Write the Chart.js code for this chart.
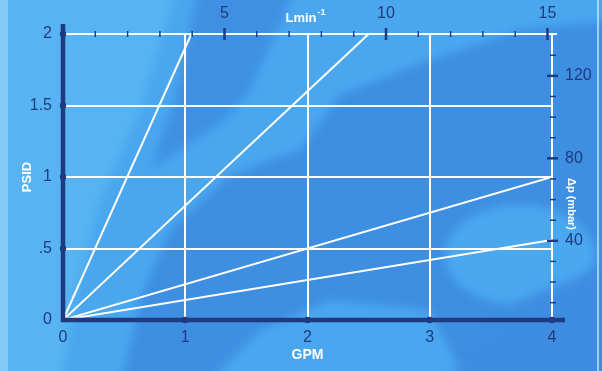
<!DOCTYPE html>
<html>
<head>
<meta charset="utf-8">
<script src="https://cdn.jsdelivr.net/npm/chart.js@4.4.1/dist/chart.umd.min.js"></script>
<style>
  html, body { margin: 0; padding: 0; background: #3f8fe3; }
  #wrap { width: 602px; height: 371px; position: relative; }
</style>
</head>
<body>
<div id="wrap"><canvas id="flowChart" width="602" height="371"></canvas></div>
<script>
// pressure drop lines, each starts at the origin
const lineNames = ["Line A", "Line B", "Line C", "Line D"]
const endGpm = [1.05, 2.5, 4, 4]
const endPsid = [2, 2, 1.0, 0.56]

// tick labels
const gpmTicks = [0, 1, 2, 3, 4]
const psidTicks = [0, 0.5, 1, 1.5, 2]
const lminTicks = [5, 10, 15]
const mbarTicks = [40, 80, 120]

const LMIN_PER_GPM = 3.785
const NAVY = "#1e3a80"
const FONT = "'Liberation Sans', Arial, sans-serif"

const datasets = lineNames.map((name, i) => ({
  label: name,
  data: [{ x: 0, y: 0 }, { x: endGpm[i], y: endPsid[i] }],
  showLine: true,
  borderColor: "#ffffff",
  borderWidth: 2,
  pointRadius: 0,
}))

// posterised blue backdrop
const backdrop = {
  id: "backdrop",
  beforeDraw(chart) {
    const ctx = chart.ctx
    const w = chart.width, h = chart.height
    const poly = (pts, col) => {
      ctx.fillStyle = col
      ctx.beginPath()
      pts.forEach(([px, py], i) => (i ? ctx.lineTo(px, py) : ctx.moveTo(px, py)))
      ctx.closePath()
      ctx.fill()
    }
    ctx.save()
    ctx.fillStyle = "#3e8ee2"
    ctx.fillRect(0, 0, w, h)
    ctx.filter = "blur(5px)"
    poly([[-20, -20], [620, -20], [620, 20], [520, 30], [430, 60], [340, 95], [300, 150],
      [230, 175], [170, 230], [140, 300], [120, 390], [-20, 390]], "#4aa7ee")
    poly([[200, -20], [300, -20], [250, 90], [225, 120], [150, 170], [175, 100]], "#3f90e3")
    poly([[-20, -20], [180, -20], [140, 110], [100, 200], [75, 300], [60, 390], [-20, 390]], "#57b3f1")
    poly([[200, 390], [260, 330], [330, 300], [430, 310], [470, 390]], "#4aa6ee")
    ctx.fillStyle = "#4aa8ef"
    ctx.beginPath()
    ctx.ellipse(520, 255, 75, 50, 0, 0, Math.PI * 2)
    ctx.fill()
    poly([[440, 390], [520, 300], [620, 260], [620, 390]], "#3f8de2")
    ctx.filter = "none"
    // light strip on the left edge, thin line on the right
    ctx.fillStyle = "rgba(170,225,250,0.5)"
    ctx.fillRect(0, 0, 8, h)
    ctx.fillStyle = "rgba(200,235,255,0.7)"
    ctx.fillRect(597, 0, 2, h)
    ctx.restore()
  },
  beforeDatasetsDraw(chart) {
    // white top rule
    const ctx = chart.ctx
    const { x, y } = chart.scales
    ctx.save()
    ctx.strokeStyle = "#ffffff"
    ctx.lineWidth = 2
    ctx.beginPath()
    ctx.moveTo(x.getPixelForValue(0), y.getPixelForValue(2))
    ctx.lineTo(x.getPixelForValue(4) + 5, y.getPixelForValue(2))
    ctx.stroke()
    ctx.restore()
  },
}

// dark axes, tick marks and axis titles
const axesDeco = {
  id: "axesDeco",
  afterDraw(chart) {
    const ctx = chart.ctx
    const { x, y, x2, y2 } = chart.scales
    const left = x.getPixelForValue(0)
    const bottom = y.getPixelForValue(0)
    const top = y.getPixelForValue(2)
    const right = x.getPixelForValue(4)
    ctx.save()
    ctx.strokeStyle = NAVY
    ctx.fillStyle = NAVY
    ctx.lineCap = "butt"

    // top axis ticks (L/min)
    for (let v = 1; v <= 15; v++) {
      const px = x2.getPixelForValue(v)
      const major = v % 5 === 0
      ctx.lineWidth = major ? 2.5 : 1.5
      ctx.beginPath()
      ctx.moveTo(px, major ? top - 6 : top - 3)
      ctx.lineTo(px, major ? top + 6 : top + 3)
      ctx.stroke()
    }
    // right axis ticks (mbar)
    for (let v = 10; v <= 130; v += 10) {
      const py = y2.getPixelForValue(v)
      const major = v % 40 === 0
      ctx.lineWidth = major ? 2.5 : 1.5
      ctx.beginPath()
      ctx.moveTo(major ? right - 5 : right - 2, py)
      ctx.lineTo(major ? right + 6 : right + 4, py)
      ctx.stroke()
    }

    // thick left and bottom axes
    ctx.lineWidth = 4.5
    ctx.beginPath()
    ctx.moveTo(left, top - 10)
    ctx.lineTo(left, bottom + 2)
    ctx.stroke()
    ctx.beginPath()
    ctx.moveTo(left - 2, bottom)
    ctx.lineTo(right + 13, bottom)
    ctx.stroke()
    psidTicks.slice(1).forEach((v) => {
      ctx.beginPath()
      ctx.arc(left, y.getPixelForValue(v), 3.2, 0, Math.PI * 2)
      ctx.fill()
    })
    gpmTicks.slice(1).forEach((v) => {
      ctx.beginPath()
      ctx.arc(x.getPixelForValue(v), bottom, 3.2, 0, Math.PI * 2)
      ctx.fill()
    })

    // axis titles
    ctx.fillStyle = "#ffffff"
    ctx.textBaseline = "middle"
    ctx.textAlign = "center"
    ctx.font = "bold 14px " + FONT
    ctx.fillText("GPM", x.getPixelForValue(2), 355)

    ctx.font = "bold 13px " + FONT
    ctx.textAlign = "left"
    const lw = ctx.measureText("Lmin").width
    ctx.font = "bold 9px " + FONT
    const sw = ctx.measureText("-1").width
    const lx = 305 - (lw + sw) / 2
    ctx.font = "bold 13px " + FONT
    ctx.fillText("Lmin", lx, 18)
    ctx.font = "bold 9px " + FONT
    ctx.fillText("-1", lx + lw + 1, 13)

    ctx.textAlign = "center"
    ctx.font = "bold 13px " + FONT
    ctx.save()
    ctx.translate(27, y.getPixelForValue(1))
    ctx.rotate(-Math.PI / 2)
    ctx.fillText("PSID", 0, 0)
    ctx.restore()

    ctx.font = "bold 11px " + FONT
    ctx.save()
    ctx.translate(571, 204)
    ctx.rotate(Math.PI / 2)
    ctx.fillText("Δp (mbar)", 0, 0)
    ctx.restore()
    ctx.restore()
  },
}

const tickFont = { family: FONT, size: 16 }

new Chart(document.getElementById("flowChart"), {
  type: "scatter",
  data: { datasets },
  plugins: [backdrop, axesDeco],
  options: {
    responsive: false,
    animation: false,
    layout: { padding: 0 },
    plugins: { legend: { display: false }, tooltip: { enabled: false } },
    scales: {
      x: {
        type: "linear",
        position: "bottom",
        min: 0,
        max: 4,
        afterBuildTicks: (s) => { s.ticks = gpmTicks.map((v) => ({ value: v })) },
        afterFit: (s) => { s.height = 51 },
        ticks: { color: NAVY, font: tickFont, padding: 8 },
        grid: {
          drawTicks: false,
          lineWidth: 2,
          color: (c) => (c.tick && c.tick.value > 0 ? "#ffffff" : "rgba(0,0,0,0)"),
        },
        border: { display: false },
      },
      y: {
        type: "linear",
        position: "left",
        min: 0,
        max: 2,
        afterBuildTicks: (s) => { s.ticks = psidTicks.map((v) => ({ value: v })) },
        afterFit: (s) => { s.width = 63 },
        ticks: {
          color: NAVY,
          font: tickFont,
          padding: 11,
          callback: (v) => (v > 0 && v < 1 ? String(v).replace("0.", ".") : String(v)),
        },
        grid: {
          drawTicks: false,
          lineWidth: 2,
          color: (c) => (c.tick && c.tick.value > 0 && c.tick.value < 2 ? "#ffffff" : "rgba(0,0,0,0)"),
        },
        border: { display: false },
      },
      x2: {
        type: "linear",
        position: "top",
        min: 0,
        max: 4 * LMIN_PER_GPM,
        afterBuildTicks: (s) => { s.ticks = lminTicks.map((v) => ({ value: v })) },
        afterFit: (s) => { s.height = 34 },
        ticks: { color: NAVY, font: tickFont, padding: 11 },
        grid: { display: false, drawTicks: false },
        border: { display: false },
      },
      y2: {
        type: "linear",
        position: "right",
        min: 1.6,
        max: 140.3,
        afterBuildTicks: (s) => { s.ticks = mbarTicks.map((v) => ({ value: v })) },
        afterFit: (s) => { s.width = 50 },
        ticks: { color: NAVY, font: tickFont, padding: 13 },
        grid: { display: false, drawTicks: false },
        border: { display: false },
      },
    },
  },
})
</script>
</body>
</html>
